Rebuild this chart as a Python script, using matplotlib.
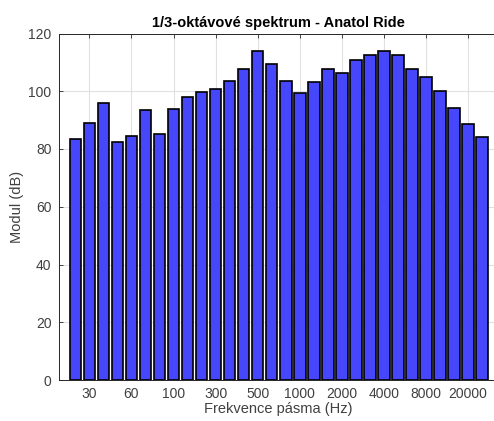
import matplotlib as mpl
mpl.use('Agg')
import matplotlib.pyplot as plt
import numpy as np

# 1/3 octave band levels (dB), 30 bands 25 Hz .. 20 kHz
levels = [83.5, 88.9, 96.1, 82.5, 84.6, 93.4, 85.2, 93.9, 97.9, 99.9,
          100.7, 103.4, 107.8, 113.9, 109.3, 103.6, 99.3, 103.1, 107.8, 106.4,
          110.9, 112.6, 114.0, 112.4, 107.6, 105.1, 100.1, 94.2, 88.5, 84.0]
tick_bands = [2, 5, 8, 11, 14, 17, 20, 23, 26, 29]
tick_labels = ['30', '60', '100', '300', '500', '1000', '2000', '4000', '8000', '20000']
y_ticks = [0, 20, 40, 60, 80, 100, 120]

plt.rcParams['font.family'] = ['Liberation Sans', 'DejaVu Sans']

W, H = 494, 421
fig = plt.figure(figsize=(W / 100, H / 100), dpi=100)
# axes extends past the right border (original picture is cropped there)
left, right, top, bottom = 58.5, 499.0, 33.5, 380.0
ax = fig.add_axes([left / W, 1 - bottom / H, (right - left) / W, (bottom - top) / H])

idx = np.arange(1, len(levels) + 1)
ax.bar(idx, levels, width=0.82, color='#4646fa', edgecolor='black', linewidth=1.2, zorder=2)

ax.set_xlim(-0.2, 31.2)
ax.set_ylim(0, 120)
ax.set_xticks(tick_bands)
ax.set_xticklabels(tick_labels)
ax.set_yticks(y_ticks)
ax.grid(True, color='#e0e0e0', linewidth=0.8, zorder=0)
ax.set_axisbelow(True)

txt = '#404040'
ax.tick_params(direction='in', length=3, width=0.6, colors='#262626', labelcolor=txt,
               labelsize=10, top=True, right=True, pad=5)
ax.tick_params(axis='y', pad=5)
for s in ax.spines.values():
    s.set_color('#262626')
    s.set_linewidth(0.7)

ax.set_title('1/3-oktávové spektrum - Anatol Ride', fontsize=10.5, fontweight='bold', pad=5)
ax.set_xlabel('Frekvence pásma (Hz)', fontsize=10.5, color=txt, labelpad=1)
ax.set_ylabel('Modul (dB)', fontsize=10.5, color=txt, labelpad=3)

plt.savefig('out.png', dpi=100)
